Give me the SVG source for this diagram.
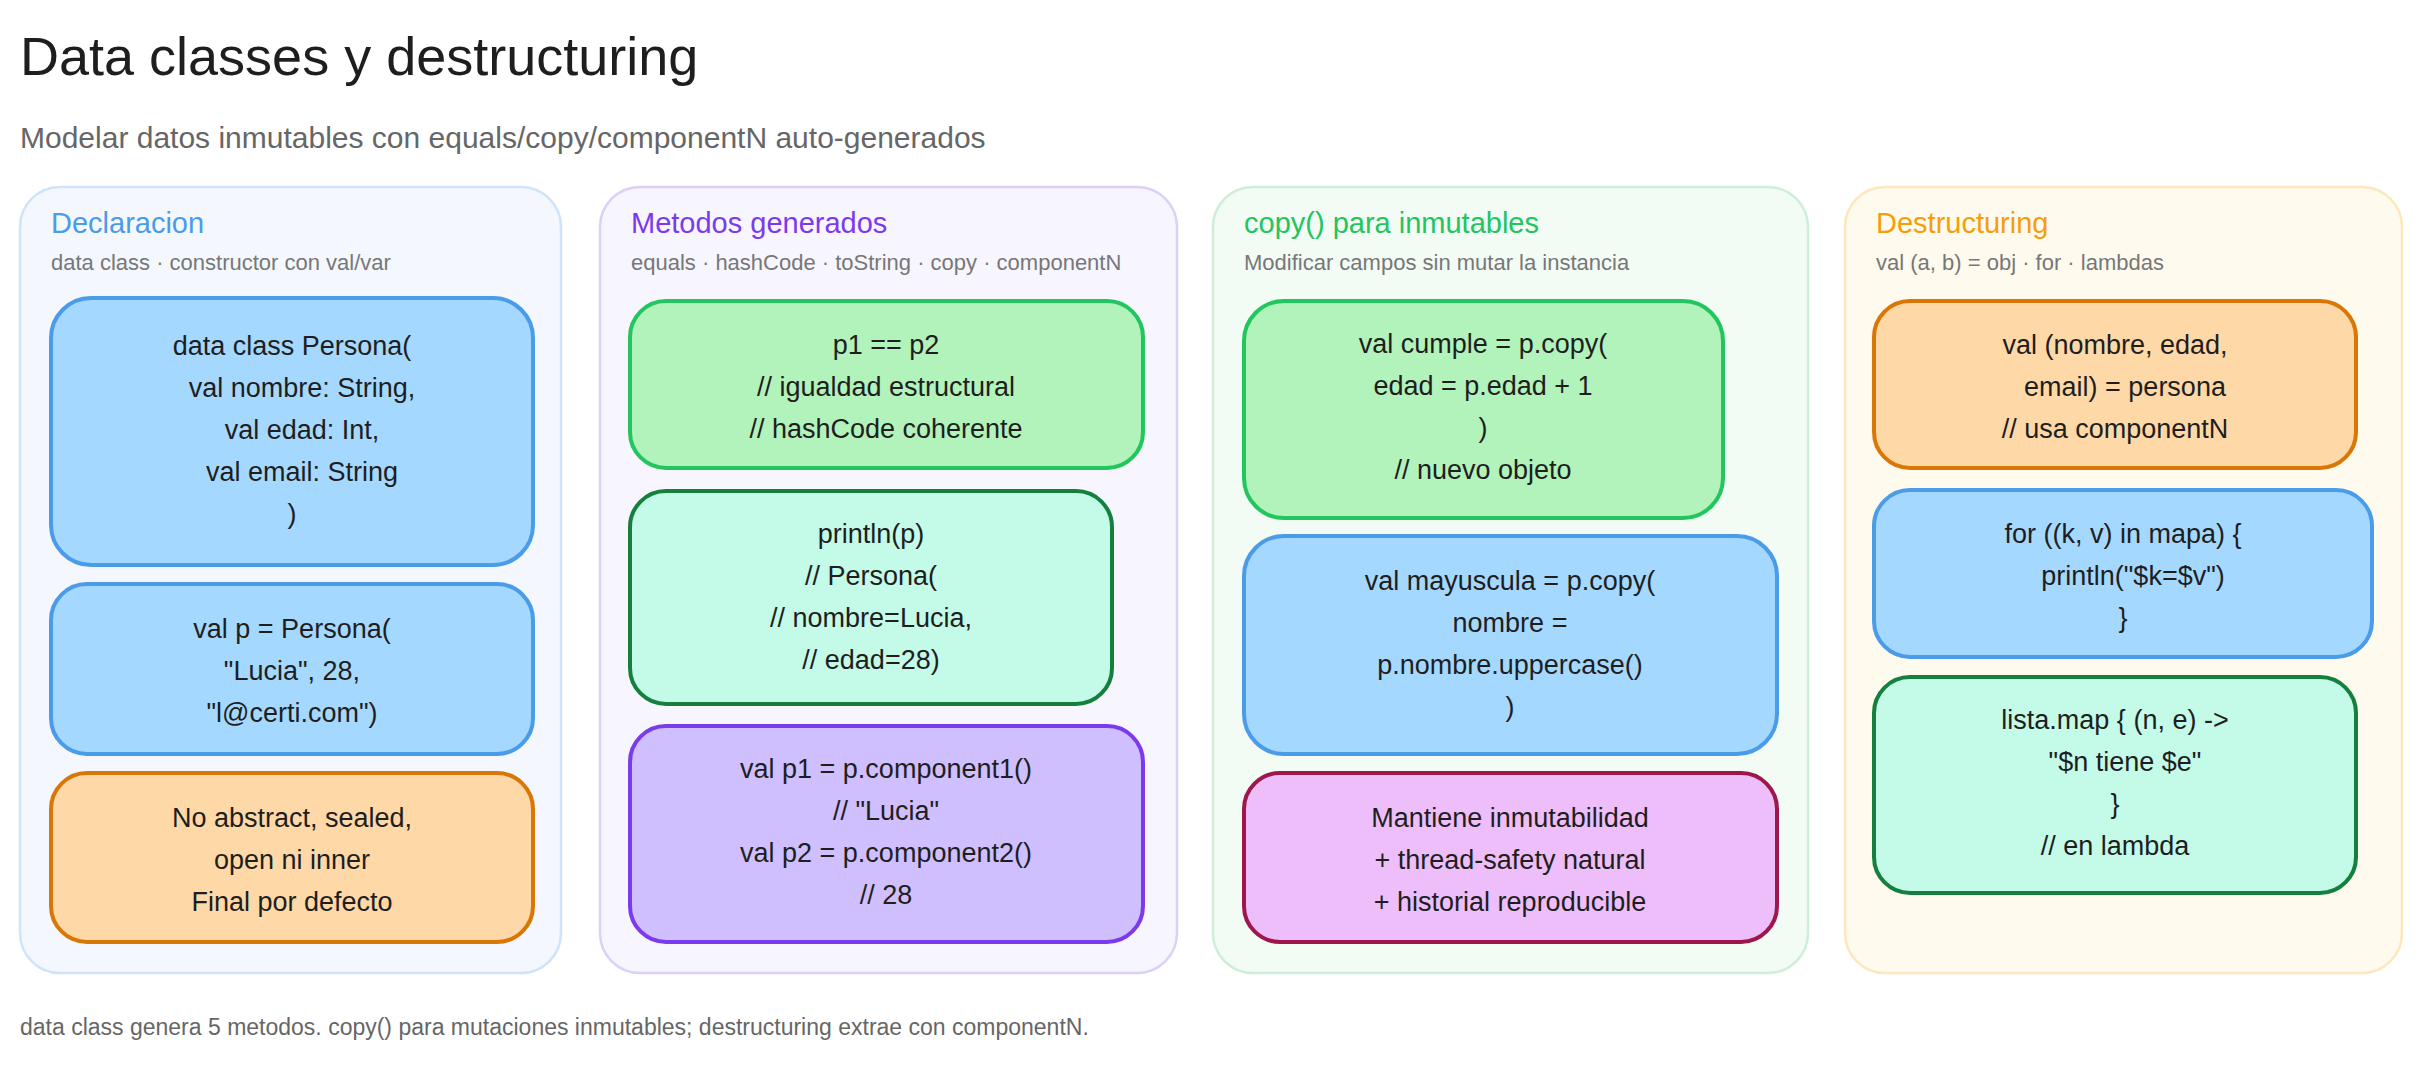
<svg xmlns="http://www.w3.org/2000/svg" width="2422" height="1071" viewBox="0 0 2422 1071">
<style>
text{font-family:"Liberation Sans",Lato,sans-serif}
.t{font-size:54px;fill:#1e1e1e}
.st{font-size:30px;fill:#666}
.pt{font-size:29px}
.ps{font-size:22px;fill:#777}
.n{font-size:27px;fill:#1e1e1e;text-anchor:middle}
.ft{font-size:23px;fill:#666}
.nd{stroke-width:4}
.pn{stroke-width:2.5}
</style>
<rect width="2422" height="1071" fill="#fff"/>
<text class="t" x="20" y="75">Data classes y destructuring</text>
<text class="st" x="20" y="148">Modelar datos inmutables con equals/copy/componentN auto-generados</text>

<g id="panel-declaracion">
<rect class="pn" x="20" y="187" width="541" height="786" rx="40" fill="#f4f8fe" stroke="#cfe3f9"/>
<text class="pt" x="51" y="233" fill="#4a9be8">Declaracion</text>
<text class="ps" x="51" y="270">data class · constructor con val/var</text>
</g>
<g id="panel-metodos">
<rect class="pn" x="600" y="187" width="577" height="786" rx="40" fill="#f7f5fe" stroke="#ddd0f8"/>
<text class="pt" x="631" y="233" fill="#7c3aed">Metodos generados</text>
<text class="ps" x="631" y="270">equals · hashCode · toString · copy · componentN</text>
</g>
<g id="panel-copy">
<rect class="pn" x="1213" y="187" width="595" height="786" rx="40" fill="#f3fbf5" stroke="#cdeed8"/>
<text class="pt" x="1244" y="233" fill="#22c55e">copy() para inmutables</text>
<text class="ps" x="1244" y="270">Modificar campos sin mutar la instancia</text>
</g>
<g id="panel-destructuring">
<rect class="pn" x="1845" y="187" width="557" height="786" rx="40" fill="#fffaee" stroke="#fde7bd"/>
<text class="pt" x="1876" y="233" fill="#f59e0b">Destructuring</text>
<text class="ps" x="1876" y="270">val (a, b) = obj · for · lambdas</text>
</g>

<g id="connectors"></g>

<g id="decl-1">
<rect class="nd" x="51" y="298" width="482" height="267" rx="40" fill="#a5d8ff" stroke="#4a9be8"/>
<text class="n" x="292" y="355">data class Persona(</text>
<text class="n" x="302" y="397">val nombre: String,</text>
<text class="n" x="302" y="439">val edad: Int,</text>
<text class="n" x="302" y="481">val email: String</text>
<text class="n" x="292" y="523">)</text>
</g>
<g id="decl-2">
<rect class="nd" x="51" y="584" width="482" height="170" rx="36" fill="#a5d8ff" stroke="#4a9be8"/>
<text class="n" x="292" y="638">val p = Persona(</text>
<text class="n" x="292" y="680">"Lucia", 28,</text>
<text class="n" x="292" y="722">"l@certi.com")</text>
</g>
<g id="decl-3">
<rect class="nd" x="51" y="773" width="482" height="169" rx="36" fill="#ffd8a8" stroke="#d97706"/>
<text class="n" x="292" y="827">No abstract, sealed,</text>
<text class="n" x="292" y="869">open ni inner</text>
<text class="n" x="292" y="911">Final por defecto</text>
</g>

<g id="met-1">
<rect class="nd" x="630" y="301" width="513" height="167" rx="36" fill="#b2f2bb" stroke="#22c55e"/>
<text class="n" x="886" y="354">p1 == p2</text>
<text class="n" x="886" y="396">// igualdad estructural</text>
<text class="n" x="886" y="438">// hashCode coherente</text>
</g>
<g id="met-2">
<rect class="nd" x="630" y="491" width="482" height="213" rx="36" fill="#c3fae8" stroke="#15803d"/>
<text class="n" x="871" y="543">println(p)</text>
<text class="n" x="871" y="585">// Persona(</text>
<text class="n" x="871" y="627">//   nombre=Lucia,</text>
<text class="n" x="871" y="669">//   edad=28)</text>
</g>
<g id="met-3">
<rect class="nd" x="630" y="726" width="513" height="216" rx="36" fill="#d0bfff" stroke="#7c3aed"/>
<text class="n" x="886" y="778">val p1 = p.component1()</text>
<text class="n" x="886" y="820">// "Lucia"</text>
<text class="n" x="886" y="862">val p2 = p.component2()</text>
<text class="n" x="886" y="904">// 28</text>
</g>

<g id="copy-1">
<rect class="nd" x="1244" y="301" width="479" height="217" rx="40" fill="#b2f2bb" stroke="#22c55e"/>
<text class="n" x="1483" y="353">val cumple = p.copy(</text>
<text class="n" x="1483" y="395">edad = p.edad + 1</text>
<text class="n" x="1483" y="437">)</text>
<text class="n" x="1483" y="479">// nuevo objeto</text>
</g>
<g id="copy-2">
<rect class="nd" x="1244" y="536" width="533" height="218" rx="40" fill="#a5d8ff" stroke="#4a9be8"/>
<text class="n" x="1510" y="590">val mayuscula = p.copy(</text>
<text class="n" x="1510" y="632">nombre =</text>
<text class="n" x="1510" y="674">p.nombre.uppercase()</text>
<text class="n" x="1510" y="716">)</text>
</g>
<g id="copy-3">
<rect class="nd" x="1244" y="773" width="533" height="169" rx="36" fill="#eebefa" stroke="#9d174d"/>
<text class="n" x="1510" y="827">Mantiene inmutabilidad</text>
<text class="n" x="1510" y="869">+ thread-safety natural</text>
<text class="n" x="1510" y="911">+ historial reproducible</text>
</g>

<g id="des-1">
<rect class="nd" x="1874" y="301" width="482" height="167" rx="36" fill="#ffd8a8" stroke="#d97706"/>
<text class="n" x="2115" y="354">val (nombre, edad,</text>
<text class="n" x="2125" y="396">email) = persona</text>
<text class="n" x="2115" y="438">// usa componentN</text>
</g>
<g id="des-2">
<rect class="nd" x="1874" y="490" width="498" height="167" rx="36" fill="#a5d8ff" stroke="#4a9be8"/>
<text class="n" x="2123" y="543">for ((k, v) in mapa) {</text>
<text class="n" x="2133" y="585">println("$k=$v")</text>
<text class="n" x="2123" y="627">}</text>
</g>
<g id="des-3">
<rect class="nd" x="1874" y="677" width="482" height="216" rx="36" fill="#c3fae8" stroke="#15803d"/>
<text class="n" x="2115" y="729">lista.map { (n, e) -&gt;</text>
<text class="n" x="2125" y="771">"$n tiene $e"</text>
<text class="n" x="2115" y="813">}</text>
<text class="n" x="2115" y="855">// en lambda</text>
</g>

<text class="ft" x="20" y="1035">data class genera 5 metodos. copy() para mutaciones inmutables; destructuring extrae con componentN.</text>
</svg>
